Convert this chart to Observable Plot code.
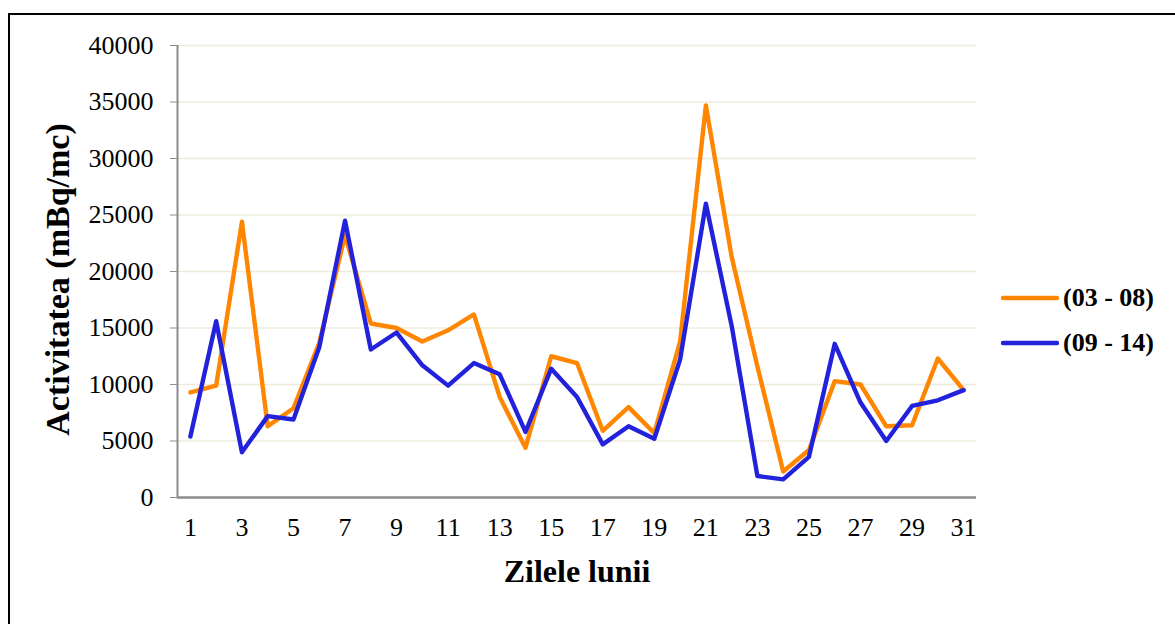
<!DOCTYPE html>
<html>
<head>
<meta charset="utf-8">
<script src="https://cdn.jsdelivr.net/npm/d3@7"></script>
<script src="https://cdn.jsdelivr.net/npm/@observablehq/plot@0.6"></script>
<style>
  html, body { margin: 0; padding: 0; background: #fff; }
  #wrap { position: relative; width: 1175px; height: 624px; overflow: hidden; font-family: "Liberation Serif", "Times New Roman", serif; }
  #frame { position: absolute; left: 8px; top: 13px; width: 1200px; height: 700px; border-left: 2px solid #000; border-top: 2px solid #000; }
  #chart { position: absolute; left: 0; top: 0; }
  .leg { position: absolute; left: 1000px; display: flex; align-items: center; font-weight: bold; font-size: 26px; color: #000; }
  .leg svg { margin-right: 3px; }
</style>
</head>
<body>
<div id="wrap">
  <div id="frame"></div>
  <div id="chart"></div>
  <div id="legend"></div>
</div>
<script>
const days = [1,2,3,4,5,6,7,8,9,10,11,12,13,14,15,16,17,18,19,20,21,22,23,24,25,26,27,28,29,30,31];
const series1Name = "(03 - 08)";
const series2Name = "(09 - 14)";
const series1 = [9300, 9900, 24400, 6300, 7900, 13700, 23200, 15400, 15000, 13800, 14800, 16200, 8900, 4400, 12500, 11900, 5900, 8000, 5700, 13800, 34700, 21300, 11600, 2300, 4200, 10300, 10000, 6300, 6400, 12300, 9500];
const series2 = [5400, 15600, 4000, 7200, 6900, 13300, 24500, 13100, 14600, 11700, 9900, 11900, 10900, 5800, 11400, 8900, 4700, 6300, 5200, 12200, 26000, 15200, 1900, 1600, 3600, 13600, 8400, 5000, 8100, 8600, 9500];
const xTicks = [1,3,5,7,9,11,13,15,17,19,21,23,25,27,29,31];
const yTicks = [0,5000,10000,15000,20000,25000,30000,35000,40000];
const xTitle = "Zilele lunii";
const yTitle = "Activitatea (mBq/mc)";
const colors = {[series1Name]: "#ff8600", [series2Name]: "#2222dd"};

const rows = [];
days.forEach((d, i) => rows.push({day: d, value: series1[i], series: series1Name}));
days.forEach((d, i) => rows.push({day: d, value: series2[i], series: series2Name}));

const chart = Plot.plot({
  width: 1175,
  height: 624,
  marginLeft: 177,
  marginTop: 45,
  marginBottom: 127,
  marginRight: 199,
  style: {fontFamily: "'Liberation Serif', 'Times New Roman', serif", background: "transparent", color: "#000"},
  x: {domain: [0.5, 31.5]},
  y: {domain: [0, 40000]},
  marks: [
    Plot.gridY(yTicks, {stroke: "#efebdc", strokeOpacity: 1, strokeWidth: 1.5}),
    Plot.ruleY([0], {stroke: "#8c8c8c", strokeWidth: 2.5}),
    Plot.ruleX([0.5], {y1: 0, y2: 40000, stroke: "#8c8c8c", strokeWidth: 2}),
    Plot.axisY({ticks: yTicks, tickFormat: d => String(d), tickSize: 7, tickPadding: 17, stroke: "#8c8c8c", fill: "#000", fontSize: 26, label: null}),
    Plot.axisX({ticks: xTicks, tickFormat: d => String(d), tickSize: 0, tickPadding: 20, fill: "#000", fontSize: 26, label: null}),
    Plot.line(rows, {x: "day", y: "value", z: "series", stroke: d => colors[d.series], strokeWidth: 4.4, strokeLinejoin: "round", strokeLinecap: "round"}),
    Plot.text([yTitle], {frameAnchor: "left", textAnchor: "middle", text: d => d, rotate: -90, dx: -119, dy: 8, fontSize: 34, fontWeight: "bold", fill: "#000"}),
    Plot.text([xTitle], {frameAnchor: "bottom", text: d => d, dy: 84, fontSize: 32, fontWeight: "bold", fill: "#000"})
  ]
});
document.getElementById("chart").appendChild(chart);

const legend = document.getElementById("legend");
[[series1Name, 298], [series2Name, 343]].forEach(([name, cy]) => {
  const div = document.createElement("div");
  div.className = "leg";
  div.style.top = (cy - 16) + "px";
  div.style.height = "32px";
  div.innerHTML = `<svg width="60" height="10"><line x1="3" y1="5" x2="57" y2="5" stroke="${colors[name]}" stroke-width="4.4" stroke-linecap="round"/></svg><span></span>`;
  div.querySelector("span").textContent = name;
  legend.appendChild(div);
});
</script>
</body>
</html>
